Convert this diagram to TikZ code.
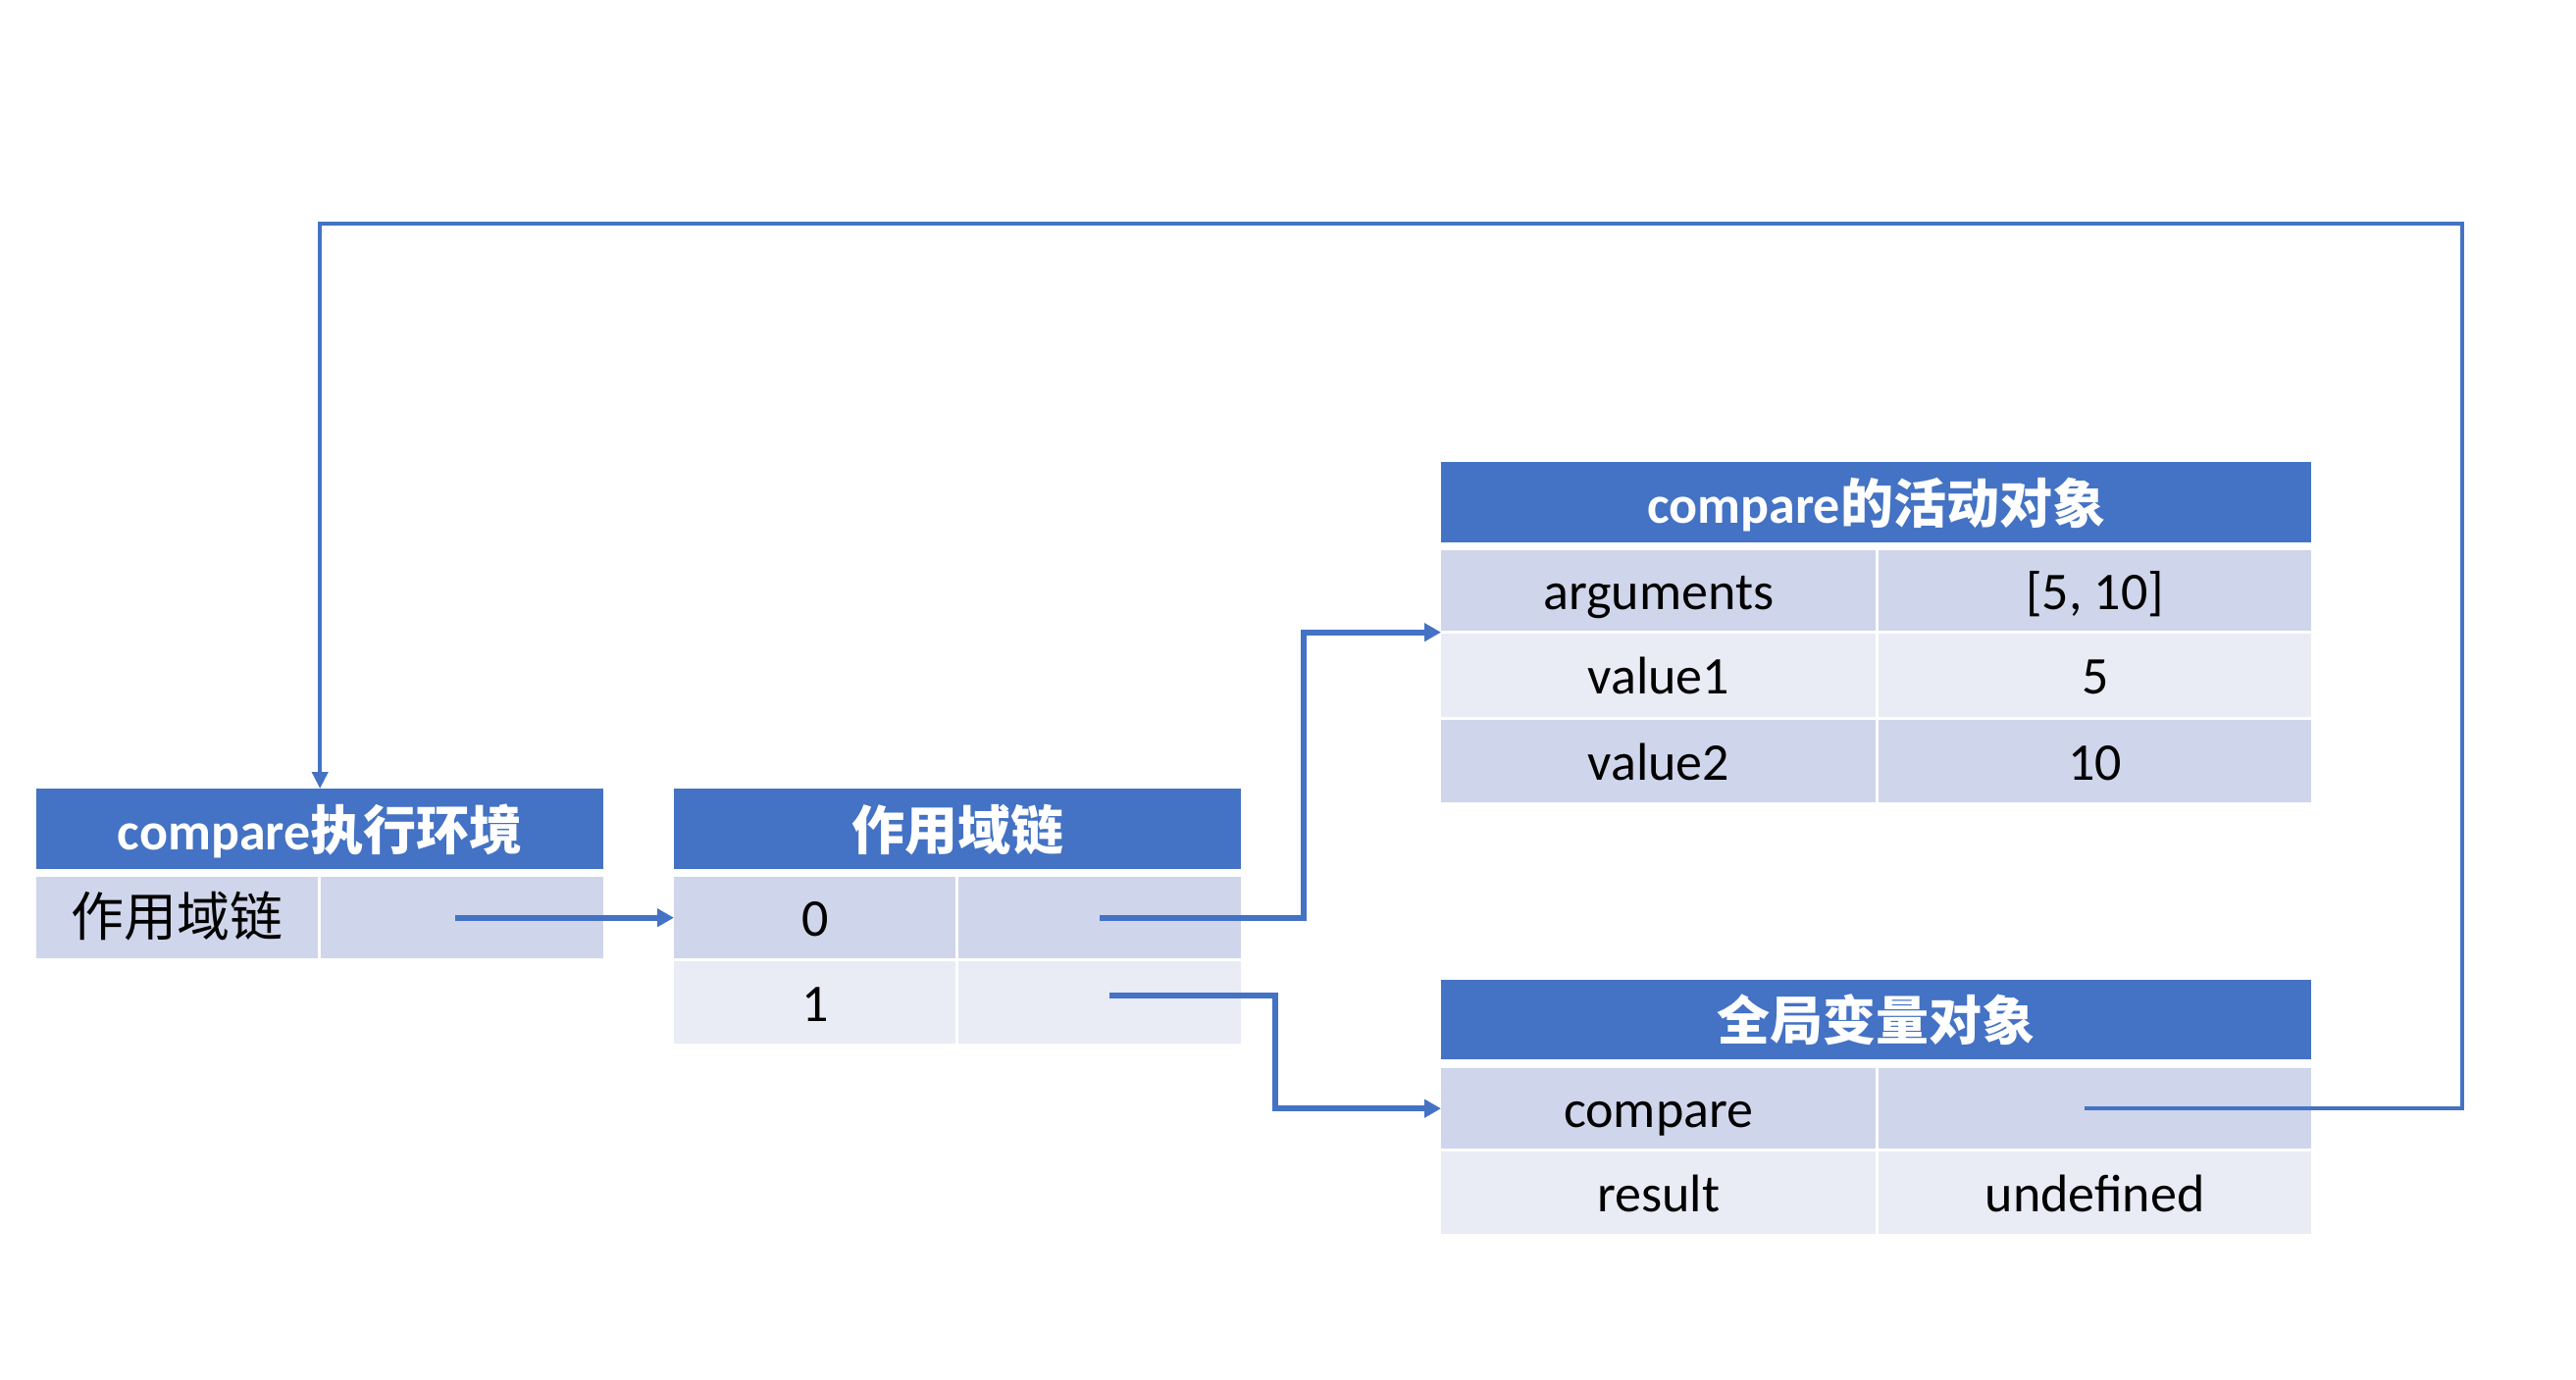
\documentclass[tikz,border=0pt]{standalone}
\usepackage{fontspec}
\setmainfont{Carlito}
\newfontfamily\cjk{Noto Sans CJK SC}
\usetikzlibrary{arrows.meta,calc}
\definecolor{hblue}{HTML}{4472C4}
\definecolor{rowdark}{HTML}{CFD5EA}
\definecolor{rowlight}{HTML}{E9EBF5}
\begin{document}
\begin{tikzpicture}[x=1pt,y=-1pt,
  base/.style={anchor=north west, inner sep=0pt, text height=43pt, text depth=5pt, font=\fontsize{54}{60}\selectfont},
  hdr/.style={base, text height=45pt, text depth=3pt, fill=hblue, text=white, font=\fontsize{54}{60}\selectfont\bfseries},
  dark/.style={base, fill=rowdark, text=black},
  light/.style={base, fill=rowlight, text=black},
  conn/.style={draw=hblue, line width=6pt, -{Triangle[length=17pt,width=18pt]}},
  loopconn/.style={draw=hblue, line width=4pt, -{Triangle[length=17pt,width=16pt]}}]
\useasboundingbox (0,0) rectangle (2626,1407);

% compare execution context
\node[hdr, minimum width=578pt, minimum height=82pt] (Lh) at (37,804) {compare{\cjk 执行环境}};
\node[dark, minimum width=287pt, minimum height=83pt] (Lk) at (37,894) {\cjk 作用域链};
\node[dark, minimum width=288pt, minimum height=83pt] (Lv) at (327,894) {};

% scope chain
\node[hdr, minimum width=578pt, minimum height=82pt] (Mh) at (687,804) {\cjk 作用域链};
\node[dark, minimum width=287pt, minimum height=83pt] (M0k) at (687,894) {0};
\node[dark, minimum width=288pt, minimum height=83pt] (M0v) at (977,894) {};
\node[light, minimum width=287pt, minimum height=84pt] (M1k) at (687,980) {1};
\node[light, minimum width=288pt, minimum height=84pt] (M1v) at (977,980) {};

% activation object
\node[hdr, minimum width=887pt, minimum height=82pt] (Ah) at (1469,471) {compare{\cjk 的活动对象}};
\node[dark, minimum width=443pt, minimum height=82pt] (A0k) at (1469,561) {arguments};
\node[dark, minimum width=441pt, minimum height=82pt] (A0v) at (1915,561) {[5, 10]};
\node[light, minimum width=443pt, minimum height=85pt] (A1k) at (1469,646) {value1};
\node[light, minimum width=441pt, minimum height=85pt] (A1v) at (1915,646) {5};
\node[dark, minimum width=443pt, minimum height=84pt] (A2k) at (1469,734) {value2};
\node[dark, minimum width=441pt, minimum height=84pt] (A2v) at (1915,734) {10};

% global variable object
\node[hdr, minimum width=887pt, minimum height=81pt] (Gh) at (1469,999) {\cjk 全局变量对象};
\node[dark, minimum width=443pt, minimum height=82pt] (G0k) at (1469,1089) {compare};
\node[dark, minimum width=441pt, minimum height=82pt] (G0v) at (1915,1089) {};
\node[light, minimum width=443pt, minimum height=84pt] (G1k) at (1469,1174) {result};
\node[light, minimum width=441pt, minimum height=84pt] (G1v) at (1915,1174) {undefined};

% connectors
\draw[conn] ([xshift=-7pt]Lv.center) -- (Lv.center -| M0k.west);

\coordinate (aIn) at ($(A0k.south west)!0.5!(A1k.north west)$);
\coordinate (bend1) at (1329,0);
\draw[conn] (M0v.center) -- (M0v.center -| bend1) |- (aIn);

\coordinate (s3) at ([xshift=10pt,yshift=7pt]M1v.center);
\coordinate (bend2) at (1300,0);
\draw[conn] (s3) -- (s3 -| bend2) |- (G0k.west);

\coordinate (s4) at ([xshift=-11pt]G0v.center);
\coordinate (loopTR) at (2510,228);
\draw[loopconn] (s4) -| (loopTR) -| (Lh.north);
\end{tikzpicture}
\end{document}
